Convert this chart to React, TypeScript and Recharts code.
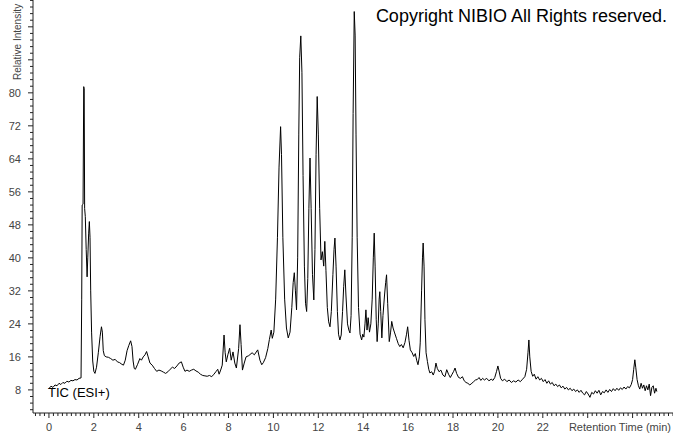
import { LineChart, Line, XAxis, YAxis } from 'recharts';

// retention time (min) and relative intensity
const retentionTime = [
  0, 0.09, 0.18, 0.27, 0.36, 0.45, 0.53, 0.62, 0.71, 0.8,
  0.89, 0.98, 1.07, 1.16, 1.25, 1.34, 1.43, 1.46, 1.48, 1.52,
  1.55, 1.57, 1.59, 1.62, 1.66, 1.7, 1.73, 1.77, 1.8, 1.83,
  1.86, 1.9, 1.95, 2.0, 2.05, 2.12, 2.2, 2.28, 2.34, 2.38,
  2.42, 2.47, 2.55, 2.65, 2.75, 2.85, 2.95, 3.05, 3.15, 3.25,
  3.32, 3.4, 3.48, 3.56, 3.64, 3.7, 3.75, 3.8, 3.85, 3.95,
  4.05, 4.12, 4.2, 4.28, 4.35, 4.42, 4.5, 4.6, 4.7, 4.8,
  4.9, 5.0, 5.1, 5.2, 5.3, 5.4, 5.5, 5.6, 5.7, 5.8,
  5.9, 5.98, 6.06, 6.15, 6.25, 6.35, 6.45, 6.55, 6.65, 6.75,
  6.85, 6.95, 7.05, 7.15, 7.25, 7.35, 7.45, 7.52, 7.58, 7.65,
  7.72, 7.8, 7.85, 7.9, 7.97, 8.05, 8.12, 8.2, 8.28, 8.35,
  8.45, 8.51, 8.56, 8.62, 8.7, 8.78, 8.9, 9.05, 9.15, 9.3,
  9.4, 9.48, 9.55, 9.65, 9.75, 9.82, 9.9, 9.95, 10.02, 10.1,
  10.18, 10.25, 10.32, 10.36, 10.42, 10.5, 10.58, 10.66, 10.74, 10.82,
  10.88, 10.93, 10.98, 11.03, 11.08, 11.13, 11.17, 11.22, 11.27, 11.32,
  11.38, 11.43, 11.48, 11.53, 11.58, 11.63, 11.68, 11.74, 11.8, 11.85,
  11.9, 11.95, 12.0, 12.06, 12.12, 12.18, 12.24, 12.29, 12.34, 12.4,
  12.46, 12.52, 12.58, 12.65, 12.7, 12.74, 12.79, 12.85, 12.9, 12.96,
  13.02, 13.08, 13.13, 13.18, 13.23, 13.3, 13.36, 13.41, 13.46, 13.51,
  13.55, 13.6, 13.64, 13.68, 13.73, 13.79, 13.86, 13.93, 13.98, 14.03,
  14.08, 14.12, 14.17, 14.22, 14.28, 14.34, 14.4, 14.45, 14.49, 14.53,
  14.58, 14.62, 14.67, 14.71, 14.74, 14.78, 14.83, 14.88, 14.95, 15.0,
  15.04, 15.09, 15.16, 15.22, 15.27, 15.33, 15.4, 15.48, 15.56, 15.63,
  15.7, 15.78, 15.86, 15.93, 15.98, 16.04, 16.1, 16.18, 16.25, 16.32,
  16.38, 16.44, 16.5, 16.54, 16.6, 16.64, 16.67, 16.71, 16.75, 16.8,
  16.86, 16.92, 16.97, 17.05, 17.12, 17.18, 17.24, 17.3, 17.38, 17.46,
  17.55, 17.64, 17.72, 17.8, 17.88, 17.96, 18.03, 18.09, 18.16, 18.25,
  18.34, 18.42, 18.5, 18.58, 18.66, 18.75, 18.84, 18.92, 19.0, 19.08,
  19.16, 19.24, 19.32, 19.4, 19.5, 19.6, 19.7, 19.78, 19.86, 19.94,
  20.0, 20.05, 20.12, 20.2, 20.3, 20.4, 20.5, 20.6, 20.7, 20.8,
  20.9, 21.0, 21.1, 21.2, 21.28, 21.34, 21.38, 21.42, 21.48, 21.55,
  21.62, 21.7, 21.78, 21.86, 21.94, 22.02, 22.1, 22.18, 22.26, 22.34,
  22.42, 22.5, 22.58, 22.66, 22.74, 22.82, 22.9, 22.98, 23.06, 23.14,
  23.22, 23.3, 23.38, 23.46, 23.54, 23.62, 23.7, 23.78, 23.86, 23.94,
  24.02, 24.1, 24.18, 24.26, 24.34, 24.42, 24.5, 24.58, 24.66, 24.74,
  24.82, 24.9, 24.98, 25.06, 25.14, 25.22, 25.3, 25.38, 25.46, 25.54,
  25.62, 25.7, 25.78, 25.86, 25.94, 26.0, 26.05, 26.1, 26.14, 26.2,
  26.26, 26.32, 26.38, 26.44, 26.5, 26.56, 26.62, 26.68, 26.74, 26.8,
  26.86, 26.92, 26.98, 27.04, 27.08,
];

const relativeIntensity = [
  8.3, 8.9, 8.6, 9.2, 9.0, 9.6, 9.3, 9.8, 9.6, 10.1,
  9.9, 10.3, 10.2, 10.5, 10.4, 10.8, 10.9, 30, 52.8, 53,
  81.5, 81, 52, 50, 42, 35.4, 40, 46, 48.8, 45,
  32, 22, 15, 12.5, 12.0, 13.5, 17, 21, 23.3, 22,
  17.5, 16.3, 16.0, 15.9, 15.6, 15.2, 15.4, 14.8, 14.6, 14.2,
  14.0, 15.2, 17.5, 18.8, 19.9, 18.5, 15, 13.2, 13.0, 14.2,
  15.6, 15.2, 16.0, 16.5, 17.3, 16.0, 14.5, 14.0, 13.2, 12.5,
  12.8, 12.6, 12.3, 12.0, 12.4, 13.0, 13.5, 13.2, 13.8, 14.5,
  14.8, 13.5, 12.5, 12.8, 12.5, 12.8, 13.0, 12.6, 12.3, 11.8,
  11.5, 11.4, 11.3, 11.5, 11.2, 11.8, 12.5, 13.0, 11.8, 12.8,
  14.0, 21.3, 17, 14.8, 16.5, 18.1, 15.2, 17.2, 14.5, 13.3,
  18, 23.8, 19, 12.8, 14.5, 16.0, 16.3, 17.0, 16.5, 17.7,
  15.2, 14.1, 14.6, 15.8, 18.0, 20.2, 22.5, 20.5, 22.0, 30,
  45, 62, 71.8, 65, 45, 30, 23, 20.6, 22, 28,
  34, 36.4, 32, 27.4, 40, 70, 88.5, 93.8, 85, 60,
  38, 29, 27.0, 35, 52, 64.2, 52, 36, 29.8, 42,
  65, 79.1, 70, 52, 39.5, 41.5, 38, 44.0, 37, 28,
  24.5, 23.3, 27, 36, 42, 44.8, 38, 27, 21.5, 20.1,
  21.3, 27, 33, 37.1, 31, 24, 22.5, 21.8, 26, 45,
  75, 99.7, 94, 70, 45, 28, 21.5, 20.1, 21.5, 20.8,
  24, 27.4, 22.5, 25.5, 22.0, 24, 30, 40, 46.0, 38,
  25, 19.7, 24, 30, 31.8, 27, 20.6, 26, 31, 34,
  35.9, 29, 19.7, 22, 24.6, 23, 21.8, 20.5, 19.2, 18.5,
  19, 18.2, 19.5, 21.5, 23.3, 20, 17.7, 17, 16.1, 16.8,
  15.2, 14.1, 16, 19.4, 32, 40, 43.6, 38, 25, 17,
  14.9, 13.0, 12.1, 12.4, 11.6, 12.5, 14.5, 13.2, 12.4, 12.8,
  11.6, 11.2, 12.9, 11.8, 11.0, 11.8, 12.5, 13.3, 12.0, 11.0,
  10.8, 11.2, 10.2, 9.8, 9.6, 9.2, 9.6, 10.0, 10.4, 10.5,
  11.0, 10.3, 10.8, 10.4, 10.8, 10.2, 10.6, 10.3, 11.0, 12.5,
  13.8, 12.6, 10.8, 10.2, 10.6, 10.0, 10.4, 9.8, 10.2, 9.9,
  10.4, 10.0, 10.6, 11.2, 13, 17, 20.1, 16, 12.5, 11.3,
  11.8, 10.6, 11.2, 10.4, 10.8, 10.0, 10.5, 9.6, 10.2, 9.4,
  9.8, 9.0, 9.4, 8.8, 9.2, 8.5, 8.9, 8.2, 8.6, 8.0,
  8.4, 7.8, 8.2, 7.6, 8.0, 7.4, 7.9, 7.2, 6.8, 7.6,
  7.0, 6.2, 7.4, 7.0, 7.8, 7.2, 7.9, 6.8, 7.6, 7.3,
  8.0, 7.4, 8.1, 7.6, 8.3, 7.8, 8.4, 7.9, 8.5, 8.1,
  8.7, 8.2, 8.8, 8.5, 9.3, 10.5, 13, 15.3, 13.5, 10.5,
  9.0, 8.2, 9.6, 8.4, 9.2, 7.8, 9.0, 8.0, 9.4, 6.6,
  8.6, 9.0, 7.2, 8.4, 7.6,
];

const xLabels = [0, 2, 4, 6, 8, 10, 12, 14, 16, 18, 20, 22];
const yLabels = [8, 16, 24, 32, 40, 48, 56, 64, 72, 80];

const data = retentionTime.map((t, i) => ({ t, v: relativeIntensity[i] }));

// minor ticks every 0.2 min / 1.6 units
const xTicks = Array.from({ length: 143 }, (_, i) => Math.round((-0.6 + i * 0.2) * 10) / 10);
const yTicks = Array.from({ length: 63 }, (_, i) => Math.round((3.2 + i * 1.6) * 10) / 10);

const FONT = 'Arial, "Liberation Sans", sans-serif';

const XTick = (props: any) => {
  const { x, y, payload } = props;
  const v = payload.value;
  const major = Number.isInteger(v) && v % 2 === 0;
  return (
    <g>
      <line x1={x} x2={x} y1={y} y2={y + (major ? 5 : 3)} stroke="#222" />
      {xLabels.includes(v) && (
        <text x={x} y={y + 18} textAnchor="middle" fontSize={11} fill="#444" fontFamily={FONT}>
          {v}
        </text>
      )}
    </g>
  );
};

const YTick = (props: any) => {
  const { x, y, payload } = props;
  const v = payload.value;
  const major = Number.isInteger(v) && v % 8 === 0;
  return (
    <g>
      <line x1={x} x2={x - (major ? 5 : 3)} y1={y} y2={y} stroke="#222" />
      {yLabels.includes(v) && (
        <text x={x - 12} y={y + 4} textAnchor="end" fontSize={11} fill="#444" fontFamily={FONT}>
          {v}
        </text>
      )}
    </g>
  );
};

export default function App() {
  return (
    <div style={{ position: 'relative', width: 673, height: 433, background: '#fff' }}>
      <style>{'body{margin:0}'}</style>
      <LineChart width={673} height={433} data={data} margin={{ top: 0, right: 0, bottom: 0, left: 0 }}>
        <XAxis
          dataKey="t"
          type="number"
          domain={[-0.71, 27.8]}
          allowDataOverflow
          ticks={xTicks}
          interval={0}
          tickSize={0}
          tickMargin={0}
          tick={<XTick />}
          height={20}
          stroke="#222"
        />
        <YAxis
          type="number"
          domain={[2.4, 102.5]}
          allowDataOverflow
          ticks={yTicks}
          interval={0}
          tickSize={0}
          tickMargin={0}
          tick={<YTick />}
          width={33}
          stroke="#222"
        />
        <Line
          type="linear"
          dataKey="v"
          stroke="#000"
          strokeWidth={1}
          dot={false}
          isAnimationActive={false}
        />
      </LineChart>
      <svg
        width={673}
        height={433}
        style={{ position: 'absolute', left: 0, top: 0, pointerEvents: 'none' }}
        fontFamily={FONT}
      >
        <text x={21} y={80} fontSize={10} fill="#444" transform="rotate(-90 21 80)">
          Relative Intensity
        </text>
        <text x={667} y={22} fontSize={18} fill="#000" textAnchor="end">
          Copyright NIBIO All Rights reserved.
        </text>
        <text x={48} y={397} fontSize={13} fill="#000">
          TIC (ESI+)
        </text>
        <text x={671} y={431} fontSize={11} fill="#444" textAnchor="end">
          Retention Time (min)
        </text>
      </svg>
    </div>
  );
}
